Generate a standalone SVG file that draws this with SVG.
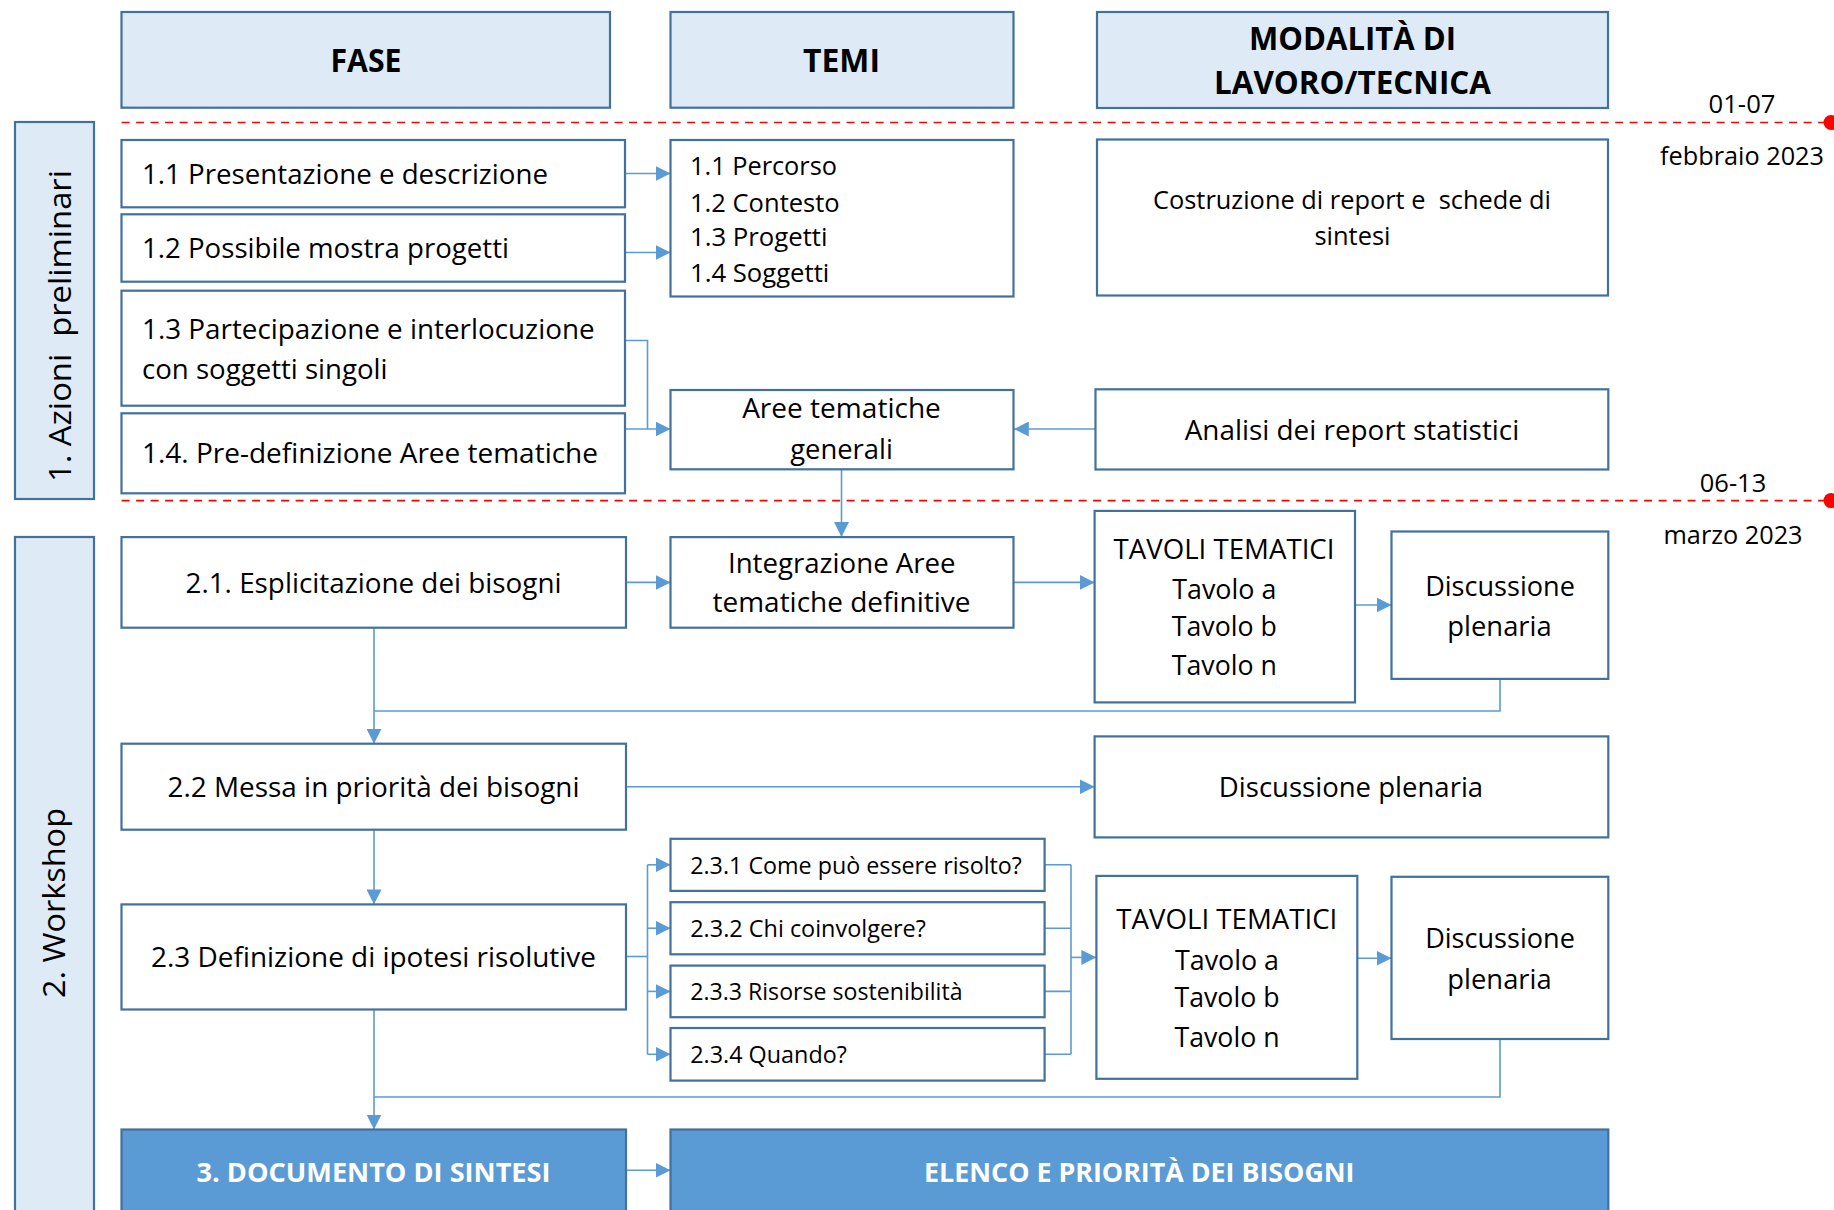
<svg xmlns="http://www.w3.org/2000/svg" width="1834" height="1210" viewBox="0 0 1834 1210">
<defs>
<style>
text{font-family:"Open Sans","Noto Sans","DejaVu Sans",sans-serif;fill:#000;}
.hdr{fill:#DEEBF7;stroke:#41719C;stroke-width:2.2;}
.box{fill:#FFFFFF;stroke:#41719C;stroke-width:2.2;}
.dark{fill:#5B9BD5;stroke:#41719C;stroke-width:2.2;}
.side{fill:#DEEBF7;stroke:#41719C;stroke-width:2.2;}
.hb{font-weight:bold;font-size:32px;text-anchor:middle;}
.t{font-size:27.5px;}
.c{text-anchor:middle;}
.l{font-size:25.3px;}
.s{font-size:23.3px;}
.w{font-weight:bold;font-size:27px;fill:#FFFFFF;text-anchor:middle;}
.d{font-size:25.5px;text-anchor:middle;}
.conn{fill:none;stroke:#5B9BD5;stroke-width:1.6;}
.arr{marker-end:url(#ah);}
.dash{stroke:#FF0000;stroke-width:1.6;stroke-dasharray:8 6.5;fill:none;}
</style>
<marker id="ah" markerUnits="userSpaceOnUse" markerWidth="15" markerHeight="15" refX="15" refY="7.5" orient="auto">
<path d="M0,0 L15,7.5 L0,15 Z" fill="#5B9BD5"/>
</marker>
</defs>
<rect width="1834" height="1210" fill="#FFFFFF"/>

<g id="timeline">
<line class="dash" x1="121.6" y1="122.5" x2="1828" y2="122.5"/>
<circle cx="1831" cy="122.5" r="7.5" fill="#FF0000"/>
<line class="dash" x1="121.6" y1="500.6" x2="1828" y2="500.6"/>
<circle cx="1831" cy="500.6" r="7.5" fill="#FF0000"/>
<text class="d" x="1742" y="113" textLength="67" lengthAdjust="spacingAndGlyphs">01-07</text>
<text class="d" x="1742" y="165.3" textLength="164" lengthAdjust="spacingAndGlyphs">febbraio 2023</text>
<text class="d" x="1733" y="491.8" textLength="66.4" lengthAdjust="spacingAndGlyphs">06-13</text>
<text class="d" x="1733" y="544" textLength="139" lengthAdjust="spacingAndGlyphs">marzo 2023</text>
</g>

<g id="connectors">
<line class="conn arr" x1="625" y1="173.5" x2="670.5" y2="173.5"/>
<line class="conn arr" x1="625" y1="252.5" x2="670.5" y2="252.5"/>
<path class="conn" d="M625,340.5 H647.5 V429"/>
<line class="conn arr" x1="625" y1="429" x2="670.5" y2="429"/>
<line class="conn arr" x1="1095.5" y1="429" x2="1013.8" y2="429"/>
<line class="conn arr" x1="841.5" y1="469.3" x2="841.5" y2="537"/>
<line class="conn arr" x1="626" y1="582.4" x2="670.5" y2="582.4"/>
<line class="conn arr" x1="1013.4" y1="582.4" x2="1094.6" y2="582.4"/>
<line class="conn arr" x1="1355" y1="605" x2="1391.5" y2="605"/>
<path class="conn" d="M1500,679 V711 H374"/>
<line class="conn arr" x1="374" y1="627.7" x2="374" y2="743.7"/>
<line class="conn arr" x1="626" y1="786.7" x2="1094.6" y2="786.7"/>
<line class="conn arr" x1="374" y1="829.7" x2="374" y2="904.4"/>
<path class="conn" d="M626,956.5 H647.5"/>
<path class="conn" d="M647.5,864.8 V1054.3"/>
<line class="conn arr" x1="647.5" y1="864.8" x2="670.5" y2="864.8"/>
<line class="conn arr" x1="647.5" y1="928.2" x2="670.5" y2="928.2"/>
<line class="conn arr" x1="647.5" y1="991.4" x2="670.5" y2="991.4"/>
<line class="conn arr" x1="647.5" y1="1054.3" x2="670.5" y2="1054.3"/>
<path class="conn" d="M1044.6,864.8 H1071 M1044.6,928.2 H1071 M1044.6,991.4 H1071 M1044.6,1054.3 H1071 M1071,864.8 V1054.3"/>
<line class="conn arr" x1="1071" y1="957.4" x2="1096.4" y2="957.4"/>
<line class="conn arr" x1="1357.3" y1="958.3" x2="1391.5" y2="958.3"/>
<path class="conn" d="M1500,1039 V1097 H374"/>
<line class="conn arr" x1="374" y1="1009.5" x2="374" y2="1129.5"/>
<line class="conn arr" x1="626" y1="1170.3" x2="670.5" y2="1170.3"/>
</g>

<g id="hdr-fase">
<rect class="hdr" x="121.5" y="12" width="488.5" height="95.7"/>
<text class="hb" x="366" y="72" textLength="71" lengthAdjust="spacingAndGlyphs">FASE</text>
</g>
<g id="hdr-temi">
<rect class="hdr" x="670.5" y="12" width="343" height="95.7"/>
<text class="hb" x="841.5" y="72" textLength="77" lengthAdjust="spacingAndGlyphs">TEMI</text>
</g>
<g id="hdr-modalita">
<rect class="hdr" x="1097" y="12" width="511" height="96"/>
<text class="hb" x="1352.5" y="50" textLength="207" lengthAdjust="spacingAndGlyphs">MODALITÀ DI</text>
<text class="hb" x="1352.5" y="94" textLength="277" lengthAdjust="spacingAndGlyphs">LAVORO/TECNICA</text>
</g>

<g id="side-azioni">
<rect class="side" x="15" y="122" width="79" height="377"/>
<text x="71" y="326" transform="rotate(-90 71 326)" style="font-size:31px;text-anchor:middle;white-space:pre" textLength="312" lengthAdjust="spacingAndGlyphs">1. Azioni  preliminari</text>
</g>
<g id="side-workshop">
<rect class="side" x="15" y="537" width="79" height="690"/>
<text x="65" y="903" transform="rotate(-90 65 903)" style="font-size:31px;text-anchor:middle" textLength="190" lengthAdjust="spacingAndGlyphs">2. Workshop</text>
</g>

<g id="n1-1">
<rect class="box" x="121.5" y="140" width="503.5" height="67.3"/>
<text class="t" x="142" y="184.3" textLength="406" lengthAdjust="spacingAndGlyphs">1.1 Presentazione e descrizione</text>
</g>
<g id="n1-2">
<rect class="box" x="121.5" y="214.3" width="503.5" height="67.4"/>
<text class="t" x="142" y="258.3" textLength="367" lengthAdjust="spacingAndGlyphs">1.2 Possibile mostra progetti</text>
</g>
<g id="n1-3">
<rect class="box" x="121.5" y="290.7" width="503.5" height="115"/>
<text class="t" x="142" y="339.3" textLength="452.6" lengthAdjust="spacingAndGlyphs">1.3 Partecipazione e interlocuzione</text>
<text class="t" x="142" y="379.3" textLength="245.5" lengthAdjust="spacingAndGlyphs">con soggetti singoli</text>
</g>
<g id="n1-4">
<rect class="box" x="121.5" y="413.3" width="503.5" height="80"/>
<text class="t" x="142" y="463.3" textLength="456" lengthAdjust="spacingAndGlyphs">1.4. Pre-definizione Aree tematiche</text>
</g>

<g id="temi-list">
<rect class="box" x="670.5" y="140" width="343" height="156.5"/>
<text class="l" x="690" y="175" textLength="147" lengthAdjust="spacingAndGlyphs">1.1 Percorso</text>
<text class="l" x="690" y="211.7" textLength="149.7" lengthAdjust="spacingAndGlyphs">1.2 Contesto</text>
<text class="l" x="690" y="245.5" textLength="137.5" lengthAdjust="spacingAndGlyphs">1.3 Progetti</text>
<text class="l" x="690" y="281.7" textLength="139.3" lengthAdjust="spacingAndGlyphs">1.4 Soggetti</text>
</g>

<g id="costruzione">
<rect class="box" x="1097" y="139.5" width="511" height="156"/>
<text class="l c" x="1352" y="209" style="white-space:pre" textLength="398" lengthAdjust="spacingAndGlyphs">Costruzione di report e  schede di</text>
<text class="l c" x="1352.5" y="245" textLength="76" lengthAdjust="spacingAndGlyphs">sintesi</text>
</g>

<g id="aree-generali">
<rect class="box" x="670.5" y="390" width="343" height="79.3"/>
<text class="t c" x="841.5" y="418.3" textLength="198.7" lengthAdjust="spacingAndGlyphs">Aree tematiche</text>
<text class="t c" x="841.5" y="458.5" textLength="102.7" lengthAdjust="spacingAndGlyphs">generali</text>
</g>

<g id="analisi">
<rect class="box" x="1095.5" y="389.3" width="512.8" height="80.2"/>
<text class="t c" x="1352" y="440" textLength="334.5" lengthAdjust="spacingAndGlyphs">Analisi dei report statistici</text>
</g>

<g id="n2-1">
<rect class="box" x="121.5" y="537.1" width="504.5" height="90.6"/>
<text class="t c" x="373.5" y="592.8" textLength="376" lengthAdjust="spacingAndGlyphs">2.1. Esplicitazione dei bisogni</text>
</g>
<g id="integrazione">
<rect class="box" x="670.5" y="537.1" width="343" height="90.6"/>
<text class="t c" x="841.8" y="572.5" textLength="227.7" lengthAdjust="spacingAndGlyphs">Integrazione Aree</text>
<text class="t c" x="841.5" y="612.3" textLength="258" lengthAdjust="spacingAndGlyphs">tematiche definitive</text>
</g>
<g id="tavoli-1">
<rect class="box" x="1094.6" y="510.9" width="260.4" height="191.5"/>
<text class="t c" x="1224" y="558.9" textLength="221" lengthAdjust="spacingAndGlyphs">TAVOLI TEMATICI</text>
<text class="t c" x="1224.3" y="598.7" textLength="104" lengthAdjust="spacingAndGlyphs">Tavolo a</text>
<text class="t c" x="1224.3" y="635.9" textLength="105" lengthAdjust="spacingAndGlyphs">Tavolo b</text>
<text class="t c" x="1224.3" y="675.3" textLength="105" lengthAdjust="spacingAndGlyphs">Tavolo n</text>
</g>
<g id="discussione-1">
<rect class="box" x="1391.5" y="531.5" width="216.8" height="147.4"/>
<text class="t c" x="1500" y="596" textLength="149.7" lengthAdjust="spacingAndGlyphs">Discussione</text>
<text class="t c" x="1499.5" y="635.9" textLength="104.3" lengthAdjust="spacingAndGlyphs">plenaria</text>
</g>

<g id="n2-2">
<rect class="box" x="121.5" y="743.7" width="504.5" height="86"/>
<text class="t c" x="373.5" y="796.6" textLength="412" lengthAdjust="spacingAndGlyphs">2.2 Messa in priorità dei bisogni</text>
</g>
<g id="discussione-plenaria">
<rect class="box" x="1094.6" y="736.4" width="513.7" height="101"/>
<text class="t c" x="1351" y="796.6" textLength="264.3" lengthAdjust="spacingAndGlyphs">Discussione plenaria</text>
</g>

<g id="n2-3">
<rect class="box" x="121.5" y="904.4" width="504.5" height="105.1"/>
<text class="t c" x="373.5" y="966.5" textLength="445" lengthAdjust="spacingAndGlyphs">2.3 Definizione di ipotesi risolutive</text>
</g>
<g id="n2-3-1">
<rect class="box" x="670.5" y="838.8" width="374.1" height="52.1"/>
<text class="s" x="690.2" y="873.6" textLength="331.7" lengthAdjust="spacingAndGlyphs">2.3.1 Come può essere risolto?</text>
</g>
<g id="n2-3-2">
<rect class="box" x="670.5" y="902.2" width="374.1" height="52.1"/>
<text class="s" x="690.2" y="937" textLength="235.7" lengthAdjust="spacingAndGlyphs">2.3.2 Chi coinvolgere?</text>
</g>
<g id="n2-3-3">
<rect class="box" x="670.5" y="965.6" width="374.1" height="51.6"/>
<text class="s" x="690.2" y="999.5" textLength="272.3" lengthAdjust="spacingAndGlyphs">2.3.3 Risorse sostenibilità</text>
</g>
<g id="n2-3-4">
<rect class="box" x="670.5" y="1028" width="374.1" height="52.6"/>
<text class="s" x="690.2" y="1063" textLength="156.7" lengthAdjust="spacingAndGlyphs">2.3.4 Quando?</text>
</g>
<g id="tavoli-2">
<rect class="box" x="1096.4" y="875.9" width="260.9" height="202.9"/>
<text class="t c" x="1226.8" y="929.3" textLength="221" lengthAdjust="spacingAndGlyphs">TAVOLI TEMATICI</text>
<text class="t c" x="1227" y="970.1" textLength="104" lengthAdjust="spacingAndGlyphs">Tavolo a</text>
<text class="t c" x="1227" y="1007.2" textLength="105" lengthAdjust="spacingAndGlyphs">Tavolo b</text>
<text class="t c" x="1227" y="1047.1" textLength="105" lengthAdjust="spacingAndGlyphs">Tavolo n</text>
</g>
<g id="discussione-2">
<rect class="box" x="1391.5" y="876.8" width="216.8" height="162.2"/>
<text class="t c" x="1500" y="948.4" textLength="149.7" lengthAdjust="spacingAndGlyphs">Discussione</text>
<text class="t c" x="1499.5" y="989.1" textLength="104.3" lengthAdjust="spacingAndGlyphs">plenaria</text>
</g>

<g id="n3">
<rect class="dark" x="121.5" y="1129.5" width="504.5" height="100"/>
<text class="w" x="373.5" y="1181.6" textLength="354" lengthAdjust="spacingAndGlyphs">3. DOCUMENTO DI SINTESI</text>
</g>
<g id="elenco">
<rect class="dark" x="670.5" y="1129.5" width="937.8" height="100"/>
<text class="w" x="1139.3" y="1181.6" textLength="430.4" lengthAdjust="spacingAndGlyphs">ELENCO E PRIORITÀ DEI BISOGNI</text>
</g>
</svg>
